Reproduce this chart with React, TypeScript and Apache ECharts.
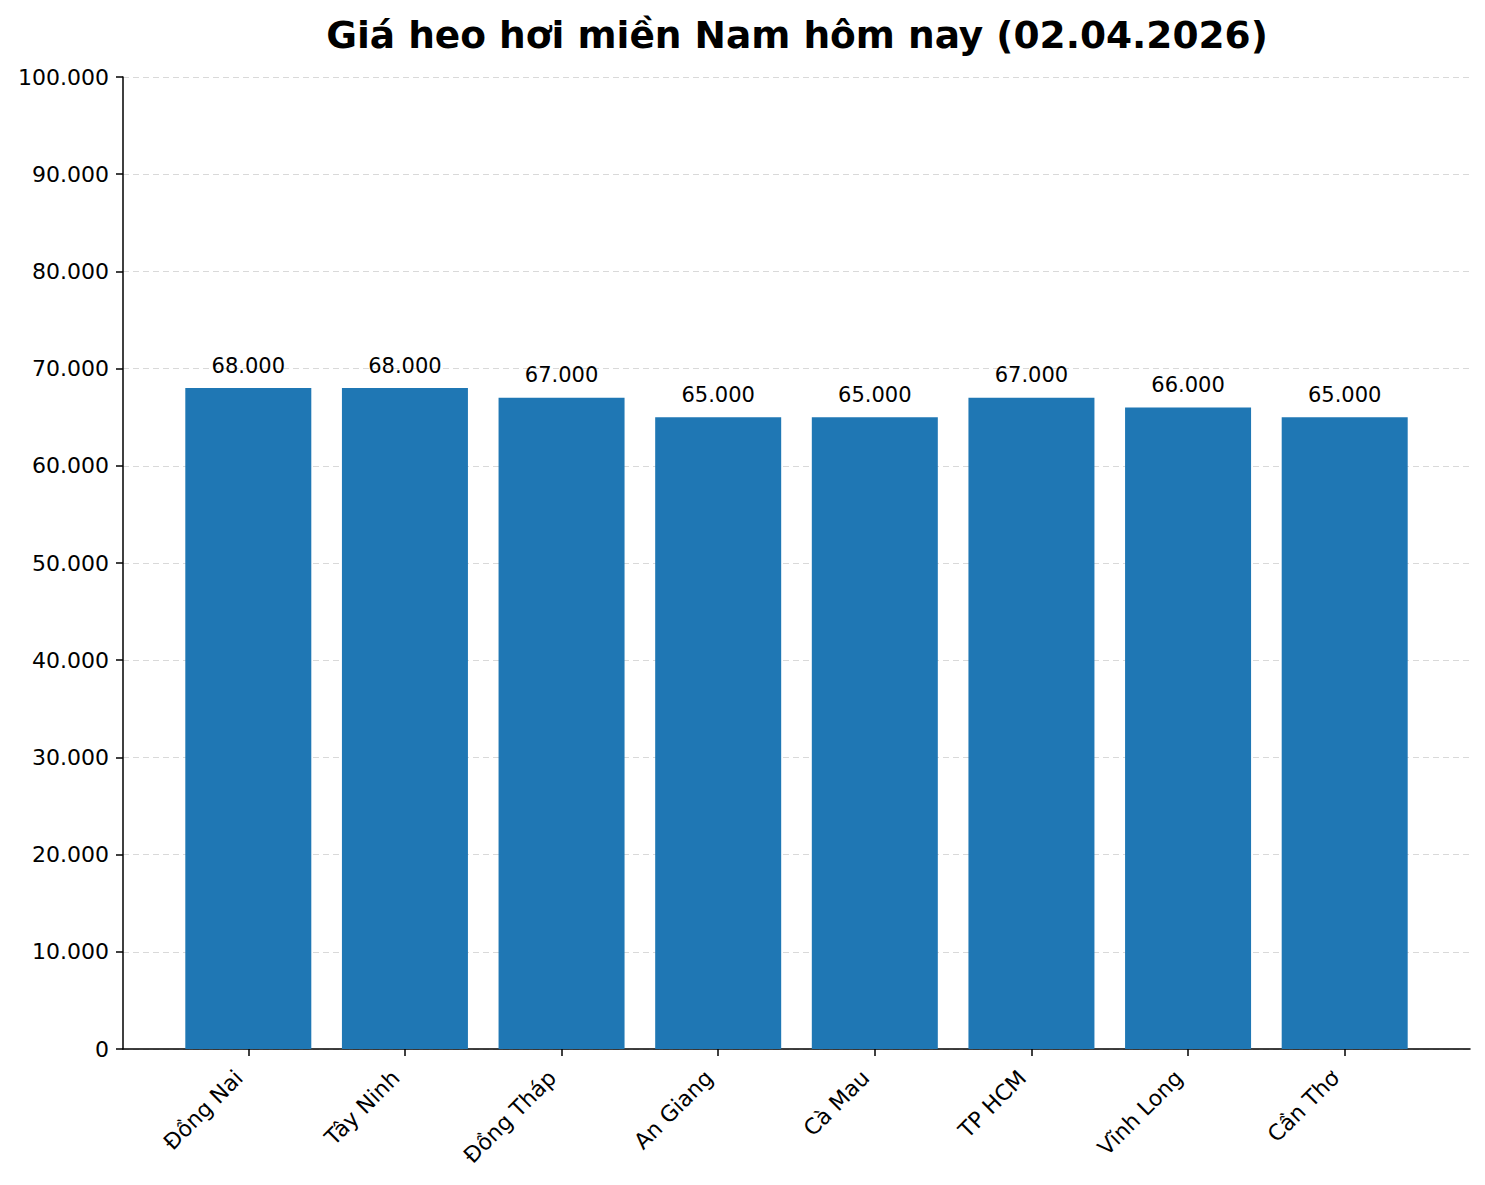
import { useEffect, useRef } from "react";
import * as echarts from "echarts";

const provinces = ["Đồng Nai", "Tây Ninh", "Đồng Tháp", "An Giang", "Cà Mau", "TP HCM", "Vĩnh Long", "Cần Thơ"];
const prices = [68000, 68000, 67000, 65000, 65000, 67000, 66000, 65000];
const positions = [0, 1, 2, 3, 4, 5, 6, 7];

const FONT = "DejaVu Sans";

// 68000 -> "68.000"
const fmt = (v: number) => String(Math.round(v)).replace(/\B(?=(\d{3})+(?!\d))/g, ".");

const App = () => {
  const chartRef = useRef(null);

  useEffect(() => {
    document.body.style.margin = "0";
    const chart = echarts.init(chartRef.current, null, { renderer: "svg" });

    const option: any = {
      animation: false,
      backgroundColor: "#ffffff",
      textStyle: { fontFamily: FONT },
      title: {
        text: "Giá heo hơi miền Nam hôm nay (02.04.2026)",
        left: 792,
        textAlign: "center",
        top: 11,
        textStyle: { fontFamily: FONT, fontSize: 37.5, fontWeight: "bold", color: "#000" },
      },
      grid: { left: 123, right: 15, top: 77, bottom: 136 },
      xAxis: {
        type: "value",
        min: -0.8,
        max: 7.8,
        splitLine: { show: false },
        axisLine: { show: true, onZero: false, lineStyle: { color: "#000", width: 1.5 } },
        axisTick: { show: true, customValues: positions, length: 7, lineStyle: { color: "#000", width: 1.5 } },
        axisLabel: {
          customValues: positions,
          rotate: 45,
          margin: 16,
          padding: [0, 13, 0, 0],
          fontSize: 22,
          color: "#000",
          fontFamily: FONT,
          formatter: (v: number) => provinces[Math.round(v)],
        },
      },
      yAxis: {
        type: "value",
        min: 0,
        max: 100000,
        interval: 10000,
        axisLine: { show: true, onZero: false, lineStyle: { color: "#000", width: 1.5 } },
        axisTick: { show: true, length: 7, lineStyle: { color: "#000", width: 1.5 } },
        axisLabel: { fontSize: 22, color: "#000", fontFamily: FONT, margin: 14, formatter: (v: number) => fmt(v) },
        splitLine: { show: true, lineStyle: { color: "#d9d9d9", type: [6, 4], width: 1 } },
      },
      series: [
        {
          type: "bar",
          barWidth: 126,
          data: positions.map((p, i) => [p, prices[i]]),
          itemStyle: { color: "#1f77b4" },
          label: {
            show: true,
            position: "top",
            distance: 12,
            fontSize: 21,
            color: "#000",
            fontFamily: FONT,
            formatter: (p: any) => fmt(p.value[1]),
          },
        },
      ],
    };

    chart.setOption(option);

    return () => {
      chart.dispose();
    };
  }, []);

  return <div ref={chartRef} style={{ width: "1485px", height: "1185px" }} />;
};

export default App;
